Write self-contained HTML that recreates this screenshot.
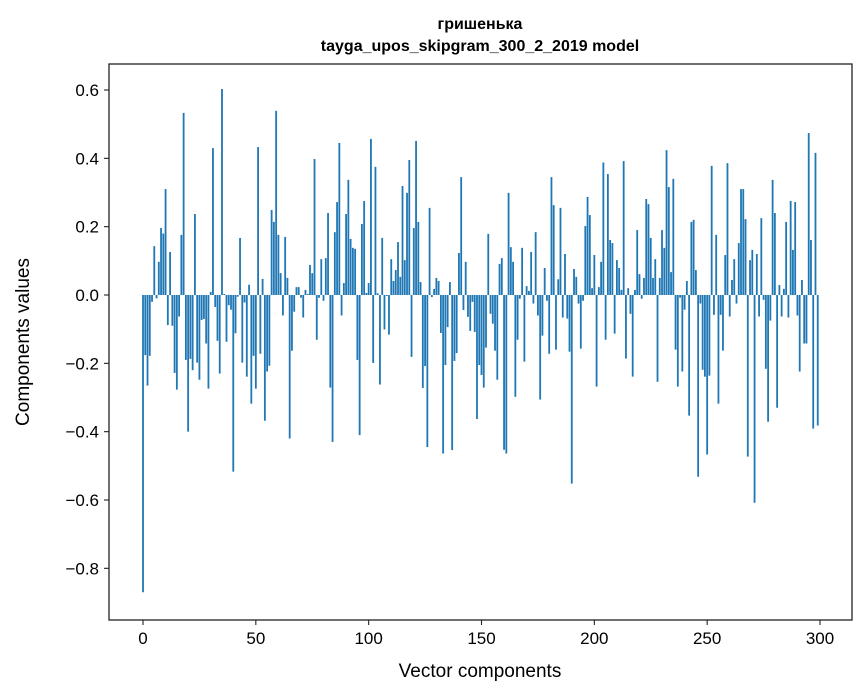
<!DOCTYPE html>
<html><head><meta charset="utf-8"><style>
body{margin:0;background:#fff;}
svg{display:block;font-family:"Liberation Sans","DejaVu Sans",sans-serif;}
</style></head><body>
<svg id="chart" width="867" height="696" viewBox="0 0 867 696" xmlns="http://www.w3.org/2000/svg">
<rect width="867" height="696" fill="#fff"/>
<text x="480" y="29" text-anchor="middle" font-size="16" font-weight="bold" font-family="Liberation Sans, DejaVu Sans, sans-serif">гришенька</text>
<text x="480" y="51" text-anchor="middle" font-size="16" font-weight="bold">tayga_upos_skipgram_300_2_2019 model</text>
<g id="bars"></g>
<g id="axes"></g>
<text x="480" y="677" text-anchor="middle" font-size="19">Vector components</text>
<text transform="translate(29,342) rotate(-90)" text-anchor="middle" font-size="19">Components values</text>
</svg>
<script>
const values = [
-0.87,-0.176,-0.265,-0.178,-0.02,0.143,-0.01,0.097,0.196,0.18,
0.31,-0.088,0.126,-0.09,-0.228,-0.277,-0.063,0.176,0.533,-0.19,
-0.40,-0.187,-0.22,0.237,-0.198,-0.248,-0.073,-0.07,-0.142,-0.274,
0.009,0.43,-0.035,-0.134,-0.23,0.603,0.003,-0.137,-0.03,-0.043,
-0.517,-0.112,-0.005,0.167,-0.198,-0.022,-0.239,0.03,-0.318,-0.178,
-0.274,0.433,-0.172,0.047,-0.368,-0.224,-0.207,0.249,0.214,0.539,
0.176,0.064,-0.06,0.17,0.05,-0.42,-0.163,-0.049,0.023,0.023,
-0.008,-0.066,0.015,0.003,0.088,0.064,0.398,-0.131,-0.008,0.105,
-0.017,0.108,0.24,-0.271,-0.43,0.184,0.272,0.445,-0.06,0.035,
0.237,0.337,0.164,0.138,0.135,-0.19,-0.41,0.208,0.275,0.006,
0.035,0.457,-0.199,0.375,0.005,-0.262,0.167,-0.101,-0.003,-0.116,
0.105,0.041,0.073,0.155,0.053,0.319,0.102,0.299,0.395,-0.181,
0.196,0.451,0.214,0.038,-0.272,-0.208,-0.445,0.255,-0.006,0.018,
0.05,0.041,-0.111,-0.464,-0.205,-0.094,0.038,-0.454,-0.193,-0.17,
0.123,0.345,-0.044,0.097,-0.064,-0.105,-0.02,-0.108,-0.363,-0.205,
-0.234,-0.271,-0.154,0.179,-0.055,-0.084,-0.163,-0.248,0.091,0.108,
-0.453,-0.464,0.299,0.14,0.097,-0.298,-0.131,-0.011,0.138,-0.195,
0.026,0.012,0.126,-0.025,0.184,-0.06,-0.306,-0.119,0.079,-0.017,
-0.172,0.345,0.263,-0.16,0.046,0.255,-0.066,0.12,-0.069,-0.166,
-0.552,0.076,0.053,-0.025,-0.157,-0.017,0.202,0.287,0.234,0.02,
0.117,-0.268,0.023,0.097,0.388,-0.131,0.354,0.161,0.152,-0.113,
0.102,0.079,0.015,0.392,-0.186,0.02,-0.055,-0.239,0.015,0.19,
0.061,-0.011,0.05,0.281,0.266,0.167,0.05,0.105,-0.254,0.05,
0.19,0.138,0.424,0.316,0.067,0.34,-0.16,-0.268,-0.008,-0.224,
-0.043,0.041,-0.353,0.214,0.22,0.073,-0.532,-0.025,-0.219,-0.239,
-0.467,-0.236,0.378,-0.058,0.176,-0.318,-0.058,-0.163,0.117,0.386,
-0.063,0.044,0.105,-0.025,0.152,0.31,0.31,0.222,-0.473,0.102,
0.132,-0.608,0.12,-0.063,0.225,-0.014,-0.216,-0.371,-0.075,0.337,
0.24,-0.33,0.029,-0.063,0.018,0.214,-0.066,0.275,0.132,0.272,
-0.06,-0.224,0.044,-0.142,-0.142,0.474,0.161,-0.391,0.416,-0.382
];
const xTicks = [0,50,100,150,200,250,300];
const yTicks = [-0.8,-0.6,-0.4,-0.2,0.0,0.2,0.4,0.6];

const L=109,R=852,T=64,B=620;
const xScale = v => 143 + v*(820-143)/300;
const yScale = v => 295 - v*(68.33/0.2);
const NS="http://www.w3.org/2000/svg";
const bars=document.getElementById('bars');
const axes=document.getElementById('axes');
const bw = 0.8*(820-143)/300;
values.forEach((v,i)=>{
  const r=document.createElementNS(NS,'rect');
  const y0=yScale(0), y1=yScale(v);
  r.setAttribute('x', xScale(i)-bw/2);
  r.setAttribute('y', Math.min(y0,y1));
  r.setAttribute('width', bw);
  r.setAttribute('height', Math.max(Math.abs(y1-y0),0.3));
  r.setAttribute('fill','#1f77b4');
  
  
  bars.appendChild(r);
});
const frame=document.createElementNS(NS,'rect');
frame.setAttribute('x',L);frame.setAttribute('y',T);
frame.setAttribute('width',R-L);frame.setAttribute('height',B-T);
frame.setAttribute('fill','none');frame.setAttribute('stroke','#222');frame.setAttribute('stroke-width','1.3');


axes.appendChild(frame);
xTicks.forEach(t=>{
  const x=xScale(t);
  const l=document.createElementNS(NS,'line');
  l.setAttribute('x1',x);l.setAttribute('x2',x);l.setAttribute('y1',B);l.setAttribute('y2',B+5);
  l.setAttribute('stroke','#222');l.setAttribute('stroke-width','1.1');
  
  
  axes.appendChild(l);
  const tx=document.createElementNS(NS,'text');
  tx.setAttribute('x',x);tx.setAttribute('y',B+24);tx.setAttribute('text-anchor','middle');tx.setAttribute('font-size','17');
  tx.textContent=String(t);
  
  
  axes.appendChild(tx);
});
yTicks.forEach(t=>{
  const y=yScale(t);
  const l=document.createElementNS(NS,'line');
  l.setAttribute('x1',L-5);l.setAttribute('x2',L);l.setAttribute('y1',y);l.setAttribute('y2',y);
  l.setAttribute('stroke','#222');l.setAttribute('stroke-width','1.1');
  
  
  axes.appendChild(l);
  const tx=document.createElementNS(NS,'text');
  tx.setAttribute('x',L-10);tx.setAttribute('y',y+6);tx.setAttribute('text-anchor','end');tx.setAttribute('font-size','17');
  tx.textContent=(t<0?'\u2212':'')+Math.abs(t).toFixed(1);
  
  
  axes.appendChild(tx);
});
</script>
</body></html>
